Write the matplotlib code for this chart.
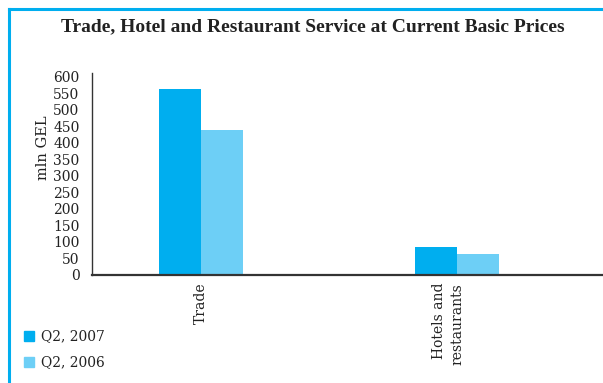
import matplotlib
matplotlib.use("Agg")
import matplotlib.pyplot as plt
import numpy as np
from matplotlib.patches import Rectangle
from matplotlib.lines import Line2D
from matplotlib.transforms import ScaledTranslation

categories = ["Trade", "Hotels and\nrestaurants"]
series_names = ["Q2, 2007", "Q2, 2006"]
q2_2007 = [563, 83]
q2_2006 = [438, 61]
y_ticks = list(range(0, 601, 50))

c2007 = "#00AEEF"
c2006 = "#6DCFF6"
text_col = "#222222"
body_font = ["DejaVu Serif"]
title_font = ["Liberation Serif", "DejaVu Serif"]

W, H = 603, 383
fig = plt.figure(figsize=(W / 100, H / 100), dpi=100)

# blue frame along the top and left edge
fig.add_artist(Line2D([9 / W, 9 / W], [0, 1 - 8.5 / H], color=c2007, lw=2.2,
                      transform=fig.transFigure))
fig.add_artist(Line2D([9 / W, 1], [1 - 8.5 / H, 1 - 8.5 / H], color=c2007, lw=2.2,
                      transform=fig.transFigure))

ax_left, ax_right = 92 / W, 1.0
ax_bottom, ax_top = 1 - 274.5 / H, 1 - 73 / H
ax = fig.add_axes([ax_left, ax_bottom, ax_right - ax_left, ax_top - ax_bottom])

x = np.arange(len(categories))
w = 0.164
ax.bar(x - w / 2, q2_2007, width=w, color=c2007, label=series_names[0])
ax.bar(x + w / 2, q2_2006, width=w, color=c2006, label=series_names[1])

ax.set_xlim(-0.426, 1.570)
ax.set_ylim(0, 612)
ax.set_yticks(y_ticks)
ax.set_yticklabels([str(v) for v in y_ticks], fontsize=10, color=text_col,
                   family=body_font)
ax.tick_params(axis="y", length=0, pad=9)
ax.set_xticks(x)
ax.set_xticklabels(categories, rotation=90, fontsize=10, color=text_col,
                   family=body_font, va="top", ha="center",
                   multialignment="right", linespacing=1.45)
ax.tick_params(axis="x", length=0, pad=6)
# two-line label sits a little left of its bar pair
lab = ax.get_xticklabels()[1]
lab.set_transform(lab.get_transform() + ScaledTranslation(-9 / 100, 0, fig.dpi_scale_trans))

for s in ["top", "right"]:
    ax.spines[s].set_visible(False)
ax.spines["left"].set_color("#333333")
ax.spines["left"].set_linewidth(1.0)
ax.spines["bottom"].set_color("#333333")
ax.spines["bottom"].set_linewidth(1.6)

fig.text(43 / W, 1 - 148 / H, "mln GEL", rotation=90, ha="center", va="center",
         fontsize=10.5, color=text_col, family=body_font)

fig.text(313 / W, 1 - 27 / H, "Trade, Hotel and Restaurant Service at Current Basic Prices",
         ha="center", va="center", fontsize=14, fontweight="bold", color=text_col,
         family=title_font)

# legend
for i, (name, col) in enumerate(zip(series_names, [c2007, c2006])):
    yc = 336 + i * 26
    fig.add_artist(Rectangle((24 / W, 1 - (yc + 5) / H), 10 / W, 10 / H,
                             color=col, transform=fig.transFigure))
    fig.text(41 / W, 1 - yc / H, name, ha="left", va="center", fontsize=10,
             color=text_col, family=body_font)

fig.savefig("out.png", dpi=100)
